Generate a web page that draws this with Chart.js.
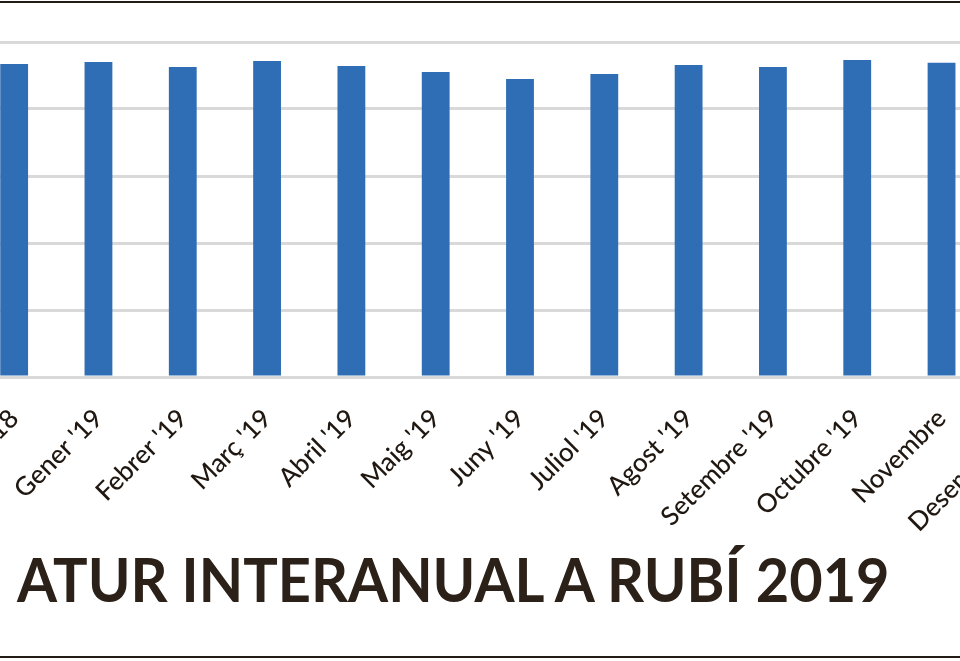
<!DOCTYPE html>
<html>
<head>
<meta charset="utf-8">
<script src="https://cdn.jsdelivr.net/npm/chart.js@4/dist/chart.umd.min.js"></script>
<style>
  html, body { margin: 0; padding: 0; background: #fff; }
  body { width: 960px; height: 661px; position: relative; overflow: hidden; }
  .rule { position: absolute; left: 0; width: 960px; height: 2px; background: #231c15; }
  #wrap { position: absolute; top: 0; left: -28.5px; }
  #title {
    position: absolute; left: 17px; top: 541px;
    font-family: Lato, sans-serif; font-weight: bold; font-size: 62px;
    line-height: 1.2; color: #2b2118; white-space: nowrap;
    transform-origin: 0 0;
  }
</style>
</head>
<body>
<div class="rule" style="top:1px"></div>
<div id="wrap"><canvas id="chart" width="1096" height="540"></canvas></div>
<div id="title">ATUR INTERANUAL A RUBÍ 2019</div>
<div class="rule" style="top:656px"></div>
<script>
const months = ["Desembre '18", "Gener '19", "Febrer '19", "Març '19", "Abril '19", "Maig '19",
    "Juny '19", "Juliol '19", "Agost '19", "Setembre '19", "Octubre '19", "Novembre", "Desembre '19"];
const aturValues = [4672, 4701, 4627, 4716, 4642, 4552, 4448, 4522, 4657, 4627, 4731, 4691, 4650];
const yTicks = [0, 1000, 2000, 3000, 4000, 5000];

document.addEventListener("DOMContentLoaded", () => {
    // squeeze the title to the width it has in the picture
    const titleEl = document.getElementById("title");
    titleEl.style.transform = `scaleX(${873 / titleEl.offsetWidth})`;

    const ctx = document.getElementById("chart").getContext("2d");
    new Chart(ctx, {
        type: "bar",
        data: {
            labels: months,
            datasets: [{
                data: aturValues,
                backgroundColor: "#2f6eb5",
                barPercentage: 0.33,
                categoryPercentage: 1
            }]
        },
        options: {
            responsive: false,
            animation: false,
            layout: { padding: { top: 42, left: 0, right: 0, bottom: 0 } },
            plugins: { legend: { display: false }, tooltip: { enabled: false } },
            scales: {
                x: {
                    grid: { display: false },
                    border: { display: false },
                    ticks: {
                        autoSkip: false,
                        minRotation: 45,
                        maxRotation: 45,
                        padding: 18,
                        color: "#1f1710",
                        font: { family: "Lato", size: 26, weight: "500" }
                    },
                    afterFit: (s) => { s.height = 163; s.paddingLeft = 0; s.paddingRight = 0; }
                },
                y: {
                    min: yTicks[0],
                    max: yTicks[yTicks.length - 1],
                    ticks: { display: false, stepSize: 1000 },
                    grid: { color: "#d9d9d9", lineWidth: 3, drawTicks: false },
                    border: { display: false },
                    afterFit: (s) => { s.width = 0; }
                }
            }
        }
    });
});
</script>
</body>
</html>
